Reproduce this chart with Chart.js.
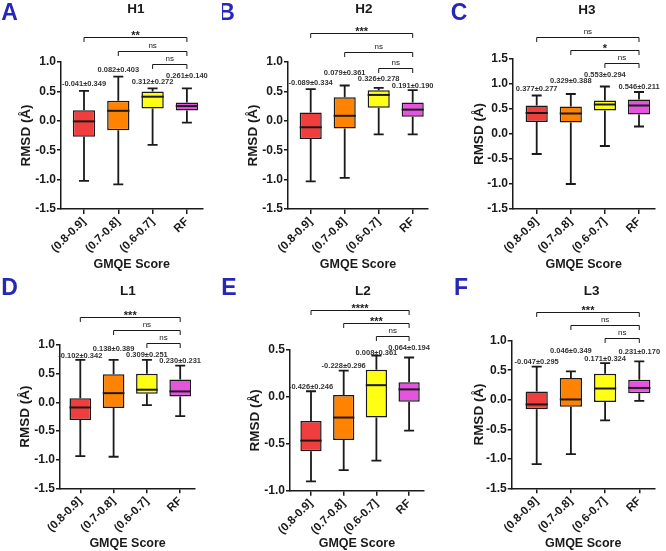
<!DOCTYPE html>
<html>
<head>
<meta charset="utf-8">
<script src="https://cdn.jsdelivr.net/npm/chart.js@4.4.1/dist/chart.umd.min.js"></script>
<style>
  body { margin: 0; background: #fff; }
  #fig { position: relative; width: 666px; height: 551px; overflow: hidden; }
  #fig canvas { position: absolute; }
</style>
</head>
<body>
<div id="fig"></div>
<script>
// categorias del eje x
const categories = ['(0.8-0.9]', '(0.7-0.8]', '(0.6-0.7]', 'RF'];

// H1
const h1Min = [-1.02, -1.08, -0.41, -0.03];
const h1Q1  = [-0.27, -0.16, 0.21, 0.175];
const h1Med = [-0.01, 0.17, 0.41, 0.25];
const h1Q3  = [0.18, 0.34, 0.50, 0.31];
const h1Max = [0.51, 0.75, 0.55, 0.55];
const h1Stats = ['-0.041±0.349', '0.082±0.403', '0.312±0.272', '0.261±0.140'];
const h1Sig = ['**', 'ns', 'ns'];

// H2
const h2Min = [-1.03, -0.97, -0.23, -0.23];
const h2Q1  = [-0.31, -0.13, 0.22, 0.07];
const h2Med = [-0.11, 0.085, 0.44, 0.19];
const h2Q3  = [0.14, 0.40, 0.52, 0.31];
const h2Max = [0.54, 0.60, 0.56, 0.52];
const h2Stats = ['-0.089±0.334', '0.079±0.361', '0.326±0.278', '0.191±0.190'];
const h2Sig = ['***', 'ns', 'ns'];

// H3
const h3Min = [-0.40, -1.00, -0.24, 0.15];
const h3Q1  = [0.24, 0.23, 0.47, 0.39];
const h3Med = [0.42, 0.41, 0.59, 0.57];
const h3Q3  = [0.57, 0.55, 0.67, 0.69];
const h3Max = [0.77, 0.80, 0.95, 0.84];
const h3Stats = ['0.377±0.277', '0.329±0.388', '0.553±0.294', '0.546±0.211'];
const h3Sig = ['ns', '*', 'ns'];

// L1
const l1Min = [-0.94, -0.95, -0.05, -0.24];
const l1Q1  = [-0.31, -0.10, 0.15, 0.10];
const l1Med = [-0.09, 0.16, 0.22, 0.19];
const l1Q3  = [0.07, 0.49, 0.50, 0.40];
const l1Max = [0.74, 0.74, 0.74, 0.64];
const l1Stats = ['-0.102±0.342', '0.138±0.389', '0.309±0.251', '0.230±0.231'];
const l1Sig = ['***', 'ns', 'ns'];

// L2
const l2Min = [-0.90, -0.78, -0.68, -0.36];
const l2Q1  = [-0.58, -0.46, -0.22, -0.053];
const l2Med = [-0.466, -0.22, 0.125, 0.08];
const l2Q3  = [-0.256, 0.02, 0.29, 0.157];
const l2Max = [0.06, 0.28, 0.44, 0.42];
const l2Stats = ['-0.426±0.246', '-0.228±0.296', '0.008±0.361', '0.064±0.194'];
const l2Sig = ['****', '***', 'ns'];

// L3
const l3Min = [-1.09, -0.92, -0.35, -0.02];
const l3Q1  = [-0.16, -0.12, -0.04, 0.11];
const l3Med = [-0.08, 0.005, 0.19, 0.20];
const l3Q3  = [0.14, 0.37, 0.44, 0.34];
const l3Max = [0.56, 0.48, 0.62, 0.65];
const l3Stats = ['-0.047±0.295', '0.046±0.349', '0.171±0.324', '0.231±0.170'];
const l3Sig = ['***', 'ns', 'ns'];

// comparaciones de los corchetes (indices de categoria)
const pairs = [[0, 3], [1, 3], [2, 3]];

const boxColors = ['#F03D3D', '#FF8200', '#FFFF14', '#E455DE'];
const ink = '#1a1a1a';
const fam = '"Liberation Sans", Arial, sans-serif';

// posicion de cada panel en la figura (pixeles de pagina)
const panels = [
  { letter: 'A', title: 'H1', ox: 0, oy: 0, h: 275, left: 61, top: 62, bottom: 209, c0: 84, step: 34.3, yMin: -1.5, yMax: 1.0, yTitleX: 26,
    letterXY: [9.5, 13.5], titleXY: [136, 9.5], statY: [84, 70, 82, 76], brY: [37, 51, 64],
    min: h1Min, q1: h1Q1, med: h1Med, q3: h1Q3, max: h1Max, stats: h1Stats, sig: h1Sig },
  { letter: 'B', title: 'H2', ox: 222, oy: 0, h: 275, left: 288, top: 62, bottom: 209, c0: 310.7, step: 34, yMin: -1.5, yMax: 1.0, yTitleX: 253,
    letterXY: [226.5, 13.5], titleXY: [364, 9.5], statY: [83, 73, 79, 86], brY: [33.3, 51.7, 68.3],
    min: h2Min, q1: h2Q1, med: h2Med, q3: h2Q3, max: h2Max, stats: h2Stats, sig: h2Sig },
  { letter: 'C', title: 'H3', ox: 444, oy: 0, h: 275, left: 513, top: 59, bottom: 209, c0: 536.7, step: 34.1, yMin: -1.5, yMax: 1.5, yTitleX: 479,
    letterXY: [459, 13.5], titleXY: [587, 10], statY: [89, 81, 75, 87], brY: [36.7, 50, 63.3],
    min: h3Min, q1: h3Q1, med: h3Med, q3: h3Q3, max: h3Max, stats: h3Stats, sig: h3Sig },
  { letter: 'D', title: 'L1', ox: 0, oy: 275, h: 276, left: 60, top: 345, bottom: 488.3, c0: 80.3, step: 33.3, yMin: -1.5, yMax: 1.0, yTitleX: 25,
    letterXY: [9.5, 289], titleXY: [128, 291.7], statY: [355.7, 349, 354.7, 361], brY: [317.3, 330, 342.7],
    min: l1Min, q1: l1Q1, med: l1Med, q3: l1Q3, max: l1Max, stats: l1Stats, sig: l1Sig },
  { letter: 'E', title: 'L2', ox: 222, oy: 275, h: 276, left: 290, top: 350, bottom: 490.7, c0: 311, step: 32.7, yMin: -1.0, yMax: 0.5, yTitleX: 255,
    letterXY: [229, 289], titleXY: [363, 291.7], statY: [386.7, 366.3, 352.7, 347.7], brY: [310, 322.7, 335.7],
    min: l2Min, q1: l2Q1, med: l2Med, q3: l2Q3, max: l2Max, stats: l2Stats, sig: l2Sig },
  { letter: 'F', title: 'L3', ox: 444, oy: 275, h: 276, left: 511.7, top: 340.7, bottom: 488.3, c0: 536.7, step: 34.2, yMin: -1.5, yMax: 1.0, yTitleX: 479,
    letterXY: [461, 289], titleXY: [591.7, 291.7], statY: [362.3, 351, 359.3, 351.5], brY: [312.3, 325, 338.3],
    min: l3Min, q1: l3Q1, med: l3Med, q3: l3Q3, max: l3Max, stats: l3Stats, sig: l3Sig }
];

// bigotes, mediana, textos y corchetes
const boxPlugin = {
  id: 'boxplot',
  afterDatasetsDraw(chart, args, opts) {
    const p = opts.p;
    const { ctx } = chart;
    const x = chart.scales.x, y = chart.scales.y;
    const bars = chart.getDatasetMeta(0).data;
    ctx.save();
    ctx.strokeStyle = ink;
    ctx.lineCap = 'butt';
    categories.forEach((c, i) => {
      const cx = x.getPixelForValue(i);
      const half = bars[i].width / 2;
      const cap = 5;
      ctx.lineWidth = 1.8;
      ctx.beginPath();
      ctx.moveTo(cx, y.getPixelForValue(p.q3[i]));
      ctx.lineTo(cx, y.getPixelForValue(p.max[i]));
      ctx.moveTo(cx, y.getPixelForValue(p.q1[i]));
      ctx.lineTo(cx, y.getPixelForValue(p.min[i]));
      ctx.moveTo(cx - cap, y.getPixelForValue(p.max[i]));
      ctx.lineTo(cx + cap, y.getPixelForValue(p.max[i]));
      ctx.moveTo(cx - cap, y.getPixelForValue(p.min[i]));
      ctx.lineTo(cx + cap, y.getPixelForValue(p.min[i]));
      ctx.stroke();
      ctx.lineWidth = 2;
      ctx.beginPath();
      ctx.moveTo(cx - half, y.getPixelForValue(p.med[i]));
      ctx.lineTo(cx + half, y.getPixelForValue(p.med[i]));
      ctx.stroke();
    });
    ctx.restore();
  },
  afterDraw(chart, args, opts) {
    const p = opts.p;
    const { ctx } = chart;
    const x = chart.scales.x;
    ctx.save();
    ctx.fillStyle = ink;
    ctx.textAlign = 'center';
    ctx.textBaseline = 'middle';
    // media ± desviacion
    ctx.font = 'bold 7.5px ' + fam;
    ctx.fillStyle = '#333';
    p.stats.forEach((s, i) => ctx.fillText(s, x.getPixelForValue(i), p.statY[i] - p.oy));
    // corchetes de significancia
    ctx.strokeStyle = ink;
    ctx.fillStyle = ink;
    ctx.lineWidth = 1;
    pairs.forEach((pr, k) => {
      const x0 = x.getPixelForValue(pr[0]), x1 = x.getPixelForValue(pr[1]);
      const yy = Math.round(p.brY[k] - p.oy) + 0.5;
      ctx.beginPath();
      ctx.moveTo(x0, yy + 4.5);
      ctx.lineTo(x0, yy);
      ctx.lineTo(x1, yy);
      ctx.lineTo(x1, yy + 4.5);
      ctx.stroke();
      const t = p.sig[k];
      ctx.textBaseline = 'alphabetic';
      if (t === 'ns') {
        ctx.font = '8px ' + fam;
        ctx.fillText(t, (x0 + x1) / 2, yy - 4);
      } else {
        ctx.font = 'bold 11px ' + fam;
        ctx.fillText(t, (x0 + x1) / 2, yy + 1.5);
      }
    });
    // letra y titulo
    ctx.textBaseline = 'middle';
    ctx.font = 'bold 23px ' + fam;
    ctx.fillStyle = '#2626B8';
    ctx.fillText(p.letter, p.letterXY[0] - p.ox, p.letterXY[1] - p.oy);
    ctx.font = 'bold 13.5px ' + fam;
    ctx.fillStyle = ink;
    ctx.fillText(p.title, p.titleXY[0] - p.ox, p.titleXY[1] - p.oy);
    ctx.restore();
  }
};

function dibujarPanel(p) {
  const cnv = document.createElement('canvas');
  cnv.width = 222;
  cnv.height = p.h;
  cnv.style.left = p.ox + 'px';
  cnv.style.top = p.oy + 'px';
  document.getElementById('fig').appendChild(cnv);

  const xMin = -(p.c0 - p.left) / p.step;
  const xMax = 3.45;
  const right = p.c0 + xMax * p.step;

  new Chart(cnv, {
    type: 'bar',
    data: {
      datasets: [{
        data: categories.map((c, i) => ({ x: i, y: [p.q1[i], p.q3[i]] })),
        backgroundColor: boxColors,
        borderColor: ink,
        borderWidth: 1.5,
        borderSkipped: false,
        barPercentage: 0.65,
        categoryPercentage: 1
      }]
    },
    options: {
      responsive: false,
      animation: false,
      devicePixelRatio: 1,
      layout: { padding: { top: p.top - p.oy, right: p.ox + 222 - right, left: 0, bottom: 0 } },
      plugins: { legend: { display: false }, tooltip: { enabled: false }, boxplot: { p: p } },
      scales: {
        x: {
          type: 'linear', min: xMin, max: xMax, offset: false,
          afterBuildTicks: s => { s.ticks = categories.map((c, i) => ({ value: i })); },
          afterFit: s => { s.height = p.oy + p.h - p.bottom; },
          ticks: {
            callback: v => categories[v],
            autoSkip: false, maxRotation: 45, minRotation: 45, padding: 1,
            color: ink, font: { family: fam, size: 11.5, weight: 'bold' }
          },
          grid: { drawOnChartArea: false, offset: false, tickLength: 5, color: ink, lineWidth: 1.5 },
          border: { color: ink, width: 1.5 },
          title: {
            display: true, text: 'GMQE Score', color: ink,
            font: { family: fam, size: 12.5, weight: 'bold' },
            padding: { top: 0, bottom: p.oy === 0 ? 3 : 0 }
          }
        },
        y: {
          min: p.yMin, max: p.yMax,
          afterFit: s => { s.width = p.left - p.ox; },
          ticks: {
            stepSize: 0.5, callback: v => v.toFixed(1), padding: 1,
            color: ink, font: { family: fam, size: 12, weight: 'bold' }
          },
          grid: { drawOnChartArea: false, tickLength: 4, color: ink, lineWidth: 1.5 },
          border: { color: ink, width: 1.5 },
          title: {
            display: true, text: 'RMSD (Å)', color: ink,
            font: { family: fam, size: 13.5, weight: 'bold' },
            padding: { top: p.yTitleX - p.ox - 8.1, bottom: 0 }
          }
        }
      }
    },
    plugins: [boxPlugin]
  });
}

panels.forEach(dibujarPanel);
</script>
</body>
</html>
